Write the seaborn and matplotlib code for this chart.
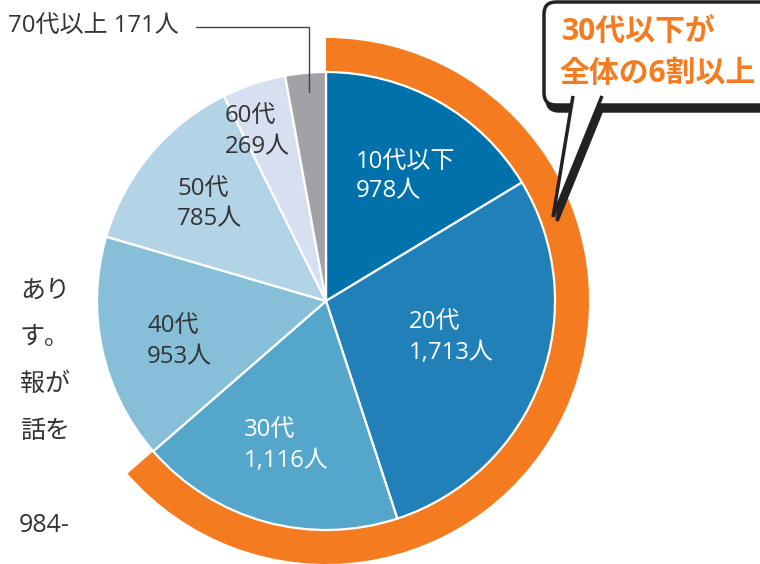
import numpy as np
import pandas as pd
import seaborn as sns
import matplotlib
matplotlib.use('Agg')
import matplotlib.pyplot as plt
from matplotlib.patches import FancyBboxPatch, Polygon

# ---- data -------------------------------------------------------------
ages = ['10代以下', '20代', '30代', '40代', '50代', '60代', '70代以上']
counts = [978, 1713, 1116, 953, 785, 269, 171]
count_labels = ['978人', '1,713人', '1,116人', '953人', '785人', '269人', '171人']
highlight_n = 3  # 30代以下
callout_lines = ['30代以下が', '全体の6割以上']
side_text = ['あり', 'す。', '報が', '話を', '984-']

# ---- style ------------------------------------------------------------
sns.set_theme(style='white')
plt.rcParams['font.family'] = ['Open Sans', 'Noto Sans CJK JP', 'DejaVu Sans']

palette = ['#0071AA', '#2080B7', '#55A6CB', '#87BFD9', '#B3D3E7', '#D7E0F0', '#A1A1A6']
text_colors = ['white', 'white', 'white', '#333333', '#333333', '#333333', '#333333']
orange = '#F47B20'
fs = 17.3

W, H = 760, 564
fig = plt.figure(figsize=(W / 100, H / 100), dpi=100)
ax = fig.add_axes([0, 0, 1, 1])


def fy(y):
    # pixel row (from top) -> data y
    return H - y


cx, cy = 326, fy(301)
r_pie = 229

# outer orange ring for 30代以下
total = sum(counts)
ring_vals = [sum(counts[:highlight_n]), total - sum(counts[:highlight_n])]
ax.pie(ring_vals, colors=[orange, 'none'], radius=r_pie + 34, center=(cx, cy),
       startangle=90, counterclock=False, frame=True,
       wedgeprops=dict(width=34, linewidth=0))

# main pie
ax.pie(counts, colors=palette, radius=r_pie, center=(cx, cy),
       startangle=90, counterclock=False, frame=True,
       wedgeprops=dict(edgecolor='white', linewidth=1.6))
ax.set_xlim(0, W)
ax.set_ylim(0, H)
ax.set_aspect('equal')
ax.axis('off')

# wedge labels (left x, first/second line centre y in pixels)
label_pos = [(356, 162, 191), (409, 322, 353), (244, 430, 461),
             (147, 326, 357), (177, 189, 219), (225, 116, 147)]
for i, (x, y1, y2) in enumerate(label_pos):
    ax.text(x, fy(y1), ages[i], color=text_colors[i], fontsize=fs,
            ha='left', va='center')
    ax.text(x, fy(y2), count_labels[i], color=text_colors[i], fontsize=fs,
            ha='left', va='center')

# 70代以上 label with leader line
ax.text(8, fy(26), f'{ages[6]} {count_labels[6]}', color='#333333', fontsize=fs,
        ha='left', va='center')
ax.plot([196, 309, 309], [fy(27), fy(27), fy(92)], color='#444444', lw=1)

# cropped side text
for y, t in zip([291, 338, 384, 431, 525], side_text):
    ax.text(70, fy(y), t, color='#333333', fontsize=18, ha='right', va='center')

# callout bubble
bx0, by_top, by_bot = 544, 2, 105
shadow = dict(facecolor='#222222', edgecolor='#222222', lw=2.5)
box_kw = dict(boxstyle='round,pad=0,rounding_size=12')
tail = [(573, 96), (553, 217), (602, 96)]
ax.add_patch(FancyBboxPatch((bx0 + 3, fy(by_bot + 6)), 300, by_bot - by_top,
                            **box_kw, **shadow))
ax.add_patch(Polygon([(x + 4, fy(y + 4)) for x, y in tail], closed=True, **shadow))
ax.add_patch(FancyBboxPatch((bx0, fy(by_bot)), 300, by_bot - by_top,
                            facecolor='white', edgecolor='#222222', lw=2.5, **box_kw))
ax.add_patch(Polygon([(x, fy(y)) for x, y in tail], closed=False,
                     facecolor='white', edgecolor='#222222', lw=2.5))
ax.text(562, fy(33), callout_lines[0], color=orange, fontsize=21.5,
        fontweight='bold', ha='left', va='center')
ax.text(559, fy(74), callout_lines[1], color=orange, fontsize=21.5,
        fontweight='bold', ha='left', va='center')

fig.savefig('out.png', dpi=100, facecolor='white')
